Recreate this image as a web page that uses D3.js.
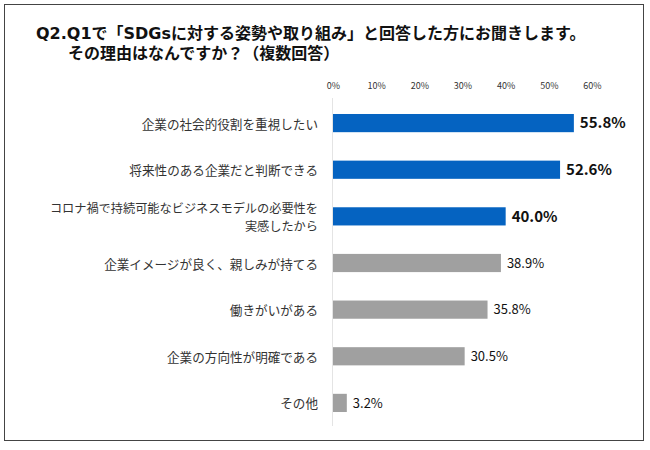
<!DOCTYPE html>
<html><head><meta charset="utf-8">
<script src="https://cdn.jsdelivr.net/npm/d3@7"></script>
<style>body{margin:0;background:#fff;} svg{display:block;}</style>
</head><body>
<svg id="c" width="650" height="450"></svg>
<script>
const categories = [
  ["企業の社会的役割を重視したい"],
  ["将来性のある企業だと判断できる"],
  ["コロナ禍で持続可能なビジネスモデルの必要性を", "実感したから"],
  ["企業イメージが良く、親しみが持てる"],
  ["働きがいがある"],
  ["企業の方向性が明確である"],
  ["その他"]
];
const values = [55.8, 52.6, 40.0, 38.9, 35.8, 30.5, 3.2];
const highlighted = [true, true, true, false, false, false, false];
const tickValues = [0, 10, 20, 30, 40, 50, 60];
const titleLines = ["Q2.Q1で「SDGsに対する姿勢や取り組み」と回答した方にお聞きします。", "その理由はなんですか？（複数回答）"];

const svg = d3.select("#c");
const font = "'Noto Sans CJK JP', sans-serif";
const titleFont = "'DejaVu Sans', 'Noto Sans CJK JP', sans-serif";

svg.append("rect").attr("x", 4.5).attr("y", 4.5).attr("width", 639).attr("height", 436)
  .attr("fill", "#fff").attr("stroke", "#444").attr("stroke-width", 1);

svg.append("text").attr("x", 36).attr("y", 39).attr("font-family", titleFont)
  .attr("font-weight", "bold").attr("font-size", 16).attr("fill", "#111").text(titleLines[0]);
svg.append("text").attr("x", 68).attr("y", 59).attr("font-family", titleFont)
  .attr("font-weight", "bold").attr("font-size", 16).attr("fill", "#111").text(titleLines[1]);

const x = d3.scaleLinear().domain([0, 60]).range([333, 592]);
const y = d3.scaleBand().domain(d3.range(values.length)).range([100, 426]).paddingInner(0.61).paddingOuter(0.3);

const ax = svg.append("g").attr("transform", "translate(0,92)")
  .call(d3.axisTop(x).tickValues(tickValues).tickFormat(d => d + "%").tickSize(0));
ax.select(".domain").remove();
ax.selectAll("text").attr("font-family", font).attr("font-size", 9).attr("fill", "#333");

svg.append("line").attr("x1", x(0) - 0.5).attr("x2", x(0) - 0.5).attr("y1", 98).attr("y2", 426)
  .attr("stroke", "#e4e4e4").attr("stroke-width", 1);

svg.selectAll("rect.bar").data(values).join("rect").attr("class", "bar")
  .attr("x", x(0)).attr("y", (d, i) => y(i))
  .attr("width", d => x(d) - x(0)).attr("height", y.bandwidth())
  .attr("fill", (d, i) => highlighted[i] ? "#0563C1" : "#A0A0A0");

svg.selectAll("text.val").data(values).join("text").attr("class", "val")
  .attr("x", d => x(d) + 6)
  .attr("y", (d, i) => y(i) + y.bandwidth() / 2)
  .attr("dy", "0.36em")
  .attr("font-family", font)
  .attr("font-size", (d, i) => highlighted[i] ? 15 : 13)
  .attr("font-weight", (d, i) => highlighted[i] ? "bold" : "normal")
  .attr("fill", "#111")
  .text(d => d.toFixed(1) + "%");

categories.forEach((lines, i) => {
  const n = lines.length;
  const fs = n > 1 ? 12.2 : 12.6;
  const gap = 17.8;
  lines.forEach((t, k) => {
    svg.append("text").attr("class", "cat")
      .attr("text-anchor", "end").attr("font-family", font).attr("font-size", fs).attr("fill", "#333")
      .attr("x", 318)
      .attr("y", y(i) + y.bandwidth() / 2 + 1 + (k - (n - 1) / 2) * gap)
      .attr("dy", "0.36em").text(t);
  });
});
</script>
</body></html>
